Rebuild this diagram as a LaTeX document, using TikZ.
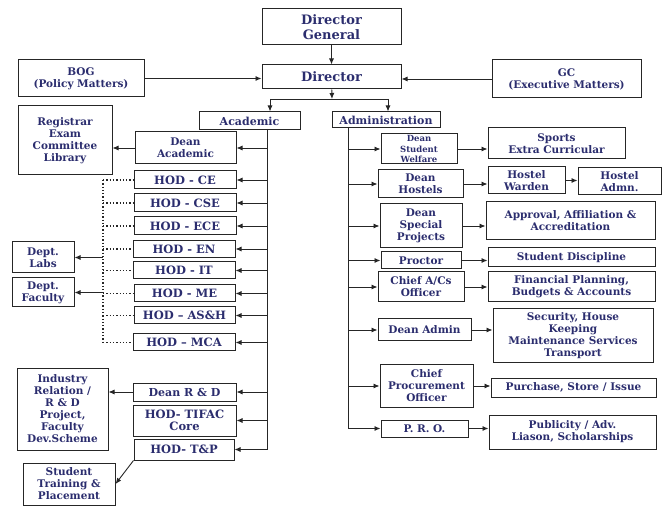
\documentclass[tikz,border=0pt]{standalone}
\usepackage{fontspec}
\setmainfont{DejaVu Serif}
\usetikzlibrary{arrows.meta}
\definecolor{boxtext}{HTML}{2B2D6E}
\definecolor{boxline}{HTML}{262626}
\tikzset{
  box/.style={draw=boxline, line width=1pt, text=boxtext, align=center, inner sep=1pt,
    font=\bfseries\fontsize{10.5}{12}\selectfont},
  bigbox/.style={box, font=\bfseries\fontsize{13}{15}\selectfont},
  hodbox/.style={box, font=\bfseries\fontsize{11.5}{12}\selectfont},
  smallbox/.style={box, font=\bfseries\fontsize{8.5}{10.5}\selectfont},
  wh/.style 2 args={minimum width=#1pt, minimum height=#2pt},
  link/.style={draw=boxline, line width=0.9pt},
  arr/.style={link, -{Latex[length=6pt,width=5pt]}},
  dots/.style={draw=boxline, line width=1.3pt, dotted},
}
\begin{document}
\begin{tikzpicture}[x=1pt, y=-1pt]
\useasboundingbox (0,0) rectangle (670,513);
% top
\node[bigbox, wh={139}{36}] (dg) at (331.5,27) {Director\\General};
\node[bigbox, wh={139}{24}] (dir) at (331.5,77) {Director};
\node[box, wh={126}{37}] (bog) at (81,78.5) {BOG\\(Policy Matters)};
\node[box, wh={149}{38}] (gc) at (566.5,79) {GC\\(Executive Matters)};
\node[box, font=\bfseries\fontsize{11}{12}\selectfont, wh={101}{18}] (aca) at (249.5,121) {Academic};
\node[box, font=\bfseries\fontsize{11}{12}\selectfont, wh={108}{16}] (adm) at (386,120) {Administration};
\coordinate (bar) at (332,99);
\coordinate (barL) at (270,99);
\coordinate (barR) at (388,99);
\draw[arr] (dg) -- (dir);
\draw[arr] (bog.east) -- (bog.east -| dir.west);
\draw[arr] (gc.west) -- (gc.west -| dir.east);
\draw[arr] (dir) -- (bar);
\draw[link] (barL) -- (barR);
\draw[arr] (barL) -- (barL |- aca.north);
\draw[arr] (barR) -- (barR |- adm.north);
% academic
\node[box, wh={94}{69}] (reg) at (65,140.5) {Registrar\\Exam\\Committee\\Library};
\node[box, wh={101}{32}] (dac) at (185.5,148) {Dean\\Academic};
\node[hodbox, wh={102}{18}] (hce) at (185,180) {HOD - CE};
\node[hodbox, wh={102}{18}] (hcse) at (185,203) {HOD - CSE};
\node[hodbox, wh={102}{18}] (hece) at (185,226) {HOD - ECE};
\node[hodbox, wh={102}{17}] (hen) at (184,249) {HOD - EN};
\node[hodbox, wh={102}{17}] (hit) at (184,270.5) {HOD - IT};
\node[hodbox, wh={101}{17}] (hme) at (184.5,293.5) {HOD - ME};
\node[hodbox, wh={101}{17}] (hash) at (184.5,315.5) {HOD -- AS\&H};
\node[hodbox, wh={102}{17}] (hmca) at (184,342.5) {HOD -- MCA};
\node[box, wh={62}{31}] (labs) at (43,257.5) {Dept.\\Labs};
\node[box, wh={62}{29}] (fac) at (43,292.5) {Dept.\\Faculty};
\node[box, wh={91}{82}] (ind) at (62.5,409) {Industry\\Relation /\\R \& D\\Project,\\Faculty\\Dev.Scheme};
\node[box, font=\bfseries\fontsize{11}{12}\selectfont, wh={103}{18}] (rnd) at (184.5,392) {Dean R \& D};
\node[hodbox, wh={103}{31}] (tif) at (184.5,420.5) {HOD- TIFAC\\Core};
\node[hodbox, wh={100}{21}] (tp) at (184,449.5) {HOD- T\&P};
\node[box, wh={92}{42}] (stp) at (69,484) {Student\\Training \&\\Placement};
\coordinate (acs) at (267,129);
\coordinate (dotx) at (103,0);
\draw[link] (acs) -- (acs |- tp);
\foreach \n in {dac,hce,hcse,hece,hen,hit,hme,hash,hmca,rnd,tif,tp}
  \draw[arr] (acs |- \n) -- (\n.east);
\draw[dots] (dotx |- hce) -- (dotx |- hmca);
\foreach \n in {hce,hcse,hece,hen,hit,hme,hash,hmca}
  \draw[dots] (dotx |- \n) -- (\n.west);
\draw[arr] (dotx |- labs) -- (labs.east);
\draw[arr] (dotx |- fac) -- (fac.east);
\draw[arr] (dac.west) -- (dac.west -| reg.east);
\draw[arr] (rnd.west) -- (rnd.west -| ind.east);
\draw[arr] (tp.south west) -- (stp.east);
% administration
\node[smallbox, wh={76}{30}] (dsw) at (419,149) {Dean\\Student\\Welfare};
\node[box, wh={137}{31}] (spo) at (556.5,143.5) {Sports\\Extra Curricular};
\node[box, wh={85}{28}] (dho) at (420.5,184) {Dean\\Hostels};
\node[box, wh={77}{27}] (hwa) at (526.5,180.5) {Hostel\\Warden};
\node[box, wh={83}{27}] (had) at (619.5,181.5) {Hostel\\Admn.};
\node[box, wh={82}{44}] (dsp) at (421,226) {Dean\\Special\\Projects};
\node[box, wh={169}{38}] (apr) at (570.5,221) {Approval, Affiliation \&\\Accreditation};
\node[box, wh={80}{17}] (pro) at (421,260.5) {Proctor};
\node[box, wh={167}{19}] (sdi) at (571.5,257.5) {Student Discipline};
\node[box, wh={86}{30}] (cao) at (421,287) {Chief A/Cs\\Officer};
\node[box, wh={167}{30}] (fin) at (571.5,287) {Financial Planning,\\Budgets \& Accounts};
\node[box, wh={93}{22}] (dad) at (424.5,330) {Dean Admin};
\node[box, wh={160}{54}] (sec) at (573,336) {Security, House\\Keeping\\Maintenance Services\\Transport};
\node[box, wh={93}{42}] (cpo) at (426.5,386) {Chief\\Procurement\\Officer};
\node[box, wh={165}{19}] (pur) at (573.5,387.5) {Purchase, Store / Issue};
\node[box, wh={87}{17}] (prd) at (424.5,428.5) {P. R. O.};
\node[box, wh={167}{34}] (pub) at (572.5,432) {Publicity / Adv.\\Liason, Scholarships};
\coordinate (ads) at (348,127);
\draw[link] (ads) -- (ads |- prd);
\foreach \n in {dsw,dho,dsp,pro,cao,dad,cpo,prd}
  \draw[arr] (ads |- \n) -- (\n.west);
\draw[arr] (dsw.east) -- (dsw.east -| spo.west);
\draw[arr] (dho.east) -- (dho.east -| hwa.west);
\draw[arr] (hwa.east) -- (hwa.east -| had.west);
\draw[arr] (dsp.east) -- (dsp.east -| apr.west);
\draw[arr] (pro.east) -- (pro.east -| sdi.west);
\draw[arr] (cao.east) -- (cao.east -| fin.west);
\draw[arr] (dad.east) -- (dad.east -| sec.west);
\draw[arr] (cpo.east) -- (cpo.east -| pur.west);
\draw[arr] (prd.east) -- (prd.east -| pub.west);
\end{tikzpicture}
\end{document}
